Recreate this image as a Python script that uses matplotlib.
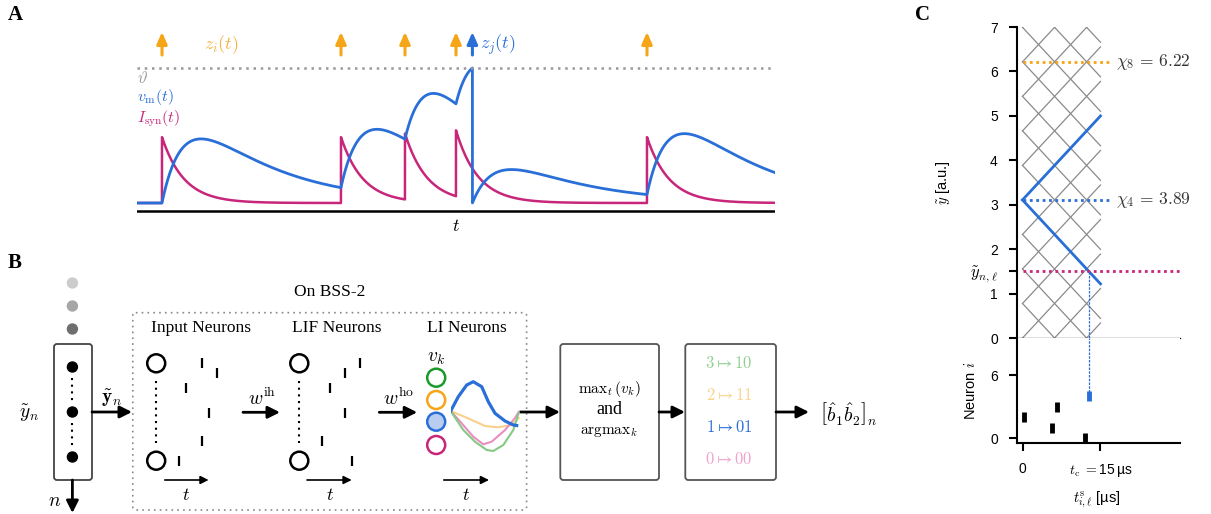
import numpy as np
import matplotlib.pyplot as plt
from matplotlib.patches import Circle, FancyBboxPatch

plt.rcParams['font.family'] = ['Liberation Serif', 'DejaVu Serif']
plt.rcParams['mathtext.fontset'] = 'cm'

W, H = 1211, 514
BLUE = '#2a6fd8'
MAG = '#c8267a'
ORANGE = '#f5a515'
SANS = ['Liberation Sans', 'DejaVu Sans']

# ---- panel A: input spike times and LIF parameters (time in a.u.)
a_t0, a_t1 = 137, 775
input_spikes = [162, 341, 405, 456, 647]
w_in = 66.0
tau_syn = 22.0
tau_mem = 80.0
gain = 5.76
v_thresh = 135.0

# ---- panel B: schematic rasters and LI traces
raster_rows = [9.3, 8.4, 7.1, 5.0, 2.5, 0.8]
input_raster_t = [6.95, 9.43, 4.37, 8.22, 6.95, 3.1]
lif_raster_t = [9.55, 7.08, 4.55, 7.08, 3.23, 8.23]

li_blue_t = [0, 7.6, 16, 22.6, 31, 37.6, 44.3, 54.3, 62.6, 66]
li_blue_v = [0, 14.3, 26, 29.3, 24.3, 9.3, -2.3, -10, -14, -14.5]
li_orange_t = [0, 17.3, 34.3, 47.3, 61, 68]
li_orange_v = [0, -7.3, -15, -16.3, -14, -7]
li_pink_t = [0, 11, 22.6, 32.6, 41, 54.3, 64.3, 68]
li_pink_v = [0, -12.3, -25.7, -33.3, -30.7, -19, -7, -1]
li_green_t = [0, 12.6, 24.3, 36, 42.6, 52.6, 62.6, 68]
li_green_v = [0, -19, -30.7, -39, -40, -34, -19, -2]

li_colors = ['#1a9a2a', '#f5a515', BLUE, MAG]
map_labels = [r'$3\mapsto\mathtt{10}$', r'$2\mapsto\mathtt{11}$',
              r'$\mathbf{1}\mapsto\mathtt{01}$', r'$0\mapsto\mathtt{00}$']
map_colors = ['#8fd08f', '#f8d38c', BLUE, '#f0a3cc']

# ---- panel C: encoding lattice and spikes
chi_step = 0.777
slope = 0.126
t_c = 15
y_nl = 1.5
chi_rows = [8, 4]
chi_labels = [r'$\chi_8\,=\,6.22$', r'$\chi_4\,=\,3.89$']
chi_colors = [ORANGE, BLUE]
c_in_t = [0.25, 5.7, 6.56, 12.0]
c_in_neuron = [2, 1, 3, 0]
c_out_neuron = 4


def px_axes(x0, y0, x1, y1):
    return fig.add_axes([x0 / W, 1 - y1 / H, (x1 - x0) / W, (y1 - y0) / H])


def arrow(ax, x0, y0, x1, y1, lw=2.0, ms=18, color='k'):
    ax.annotate('', xy=(x1, y1), xytext=(x0, y0), annotation_clip=False,
                arrowprops=dict(arrowstyle='-|>', lw=lw, color=color,
                                mutation_scale=ms, shrinkA=0, shrinkB=0))


fig = plt.figure(figsize=(W / 100, H / 100), dpi=100)
dg = fig.add_axes([0, 0, 1, 1])
dg.set_xlim(0, W)
dg.set_ylim(H, 0)
dg.axis('off')

# ================= panel A =================
dt = 0.05
t_a = np.arange(a_t0, a_t1 + dt, dt)
kick = np.zeros_like(t_a)
kick[np.searchsorted(t_a, input_spikes)] = w_in
i_syn = np.zeros_like(t_a)
v_mem = np.zeros_like(t_a)
I, V = 0.0, 0.0
out_spikes = []
for k in range(len(t_a)):
    I += kick[k]
    V += dt * (gain * I - V) / tau_mem
    I -= dt * I / tau_syn
    if V >= v_thresh:
        v_mem[k] = v_thresh
        out_spikes.append(t_a[k])
        V = 0.0
    else:
        v_mem[k] = V
    i_syn[k] = I

axA = px_axes(a_t0, 25, a_t1, 215)
axA.set_xlim(a_t0, a_t1)
axA.set_ylim(-12, 178)
axA.axis('off')
axA.plot(t_a, i_syn, color=MAG, lw=1.8)
axA.plot(t_a, v_mem, color=BLUE, lw=2.0)
axA.axhline(v_thresh, color='#999999', lw=1.8, dashes=(1, 1.9))
axA.axhline(-7.5, color='k', lw=1.8)
aprops = dict(arrowstyle='-|>,head_length=0.5,head_width=0.22', lw=2.2,
              mutation_scale=14, shrinkA=0, shrinkB=0)
for ts in input_spikes:
    axA.annotate('', xy=(ts, 171), xytext=(ts, 148),
                 arrowprops=dict(aprops, color=ORANGE))
for ts in out_spikes:
    axA.annotate('', xy=(ts, 171), xytext=(ts, 148),
                 arrowprops=dict(aprops, color=BLUE))
    axA.text(ts + 8, 158, r'$z_j(t)$', color=BLUE, fontsize=13,
             ha='left', va='center')
axA.text(221, 158, r'$z_i(t)$', color='#f5b13d', fontsize=13,
         ha='center', va='center')
axA.text(137, 124, r'$\vartheta$', color='#999999', fontsize=12,
         ha='left', va='center')
axA.text(137, 106, r'$v_\mathrm{m}(t)$', color=BLUE, fontsize=11.5,
         ha='left', va='center')
axA.text(137, 84, r'$I_\mathrm{syn}(t)$', color=MAG, fontsize=11.5,
         ha='left', va='center')
axA.text(456, -23, r'$t$', fontsize=13, ha='center', va='center')

# ================= panel B =================
for yy, c in zip([283, 306, 329], ['#cccccc', '#a6a6a6', '#6e6e6e']):
    dg.add_patch(Circle((72.4, yy), 5, color=c))
dg.add_patch(FancyBboxPatch((54, 344), 38, 136,
                            boxstyle='round,pad=0,rounding_size=3',
                            fc='white', ec='#444444', lw=1.3))
for yy in [367, 412, 457]:
    dg.add_patch(Circle((72.4, yy), 5, color='k'))
for ya, yb in [(378, 402), (423, 447)]:
    dg.plot([72.4, 72.4], [ya, yb], color='k', lw=1.5, dashes=(1, 2.2))
dg.text(29, 413, r'$\tilde{y}_n$', fontsize=14, ha='center', va='center')
arrow(dg, 92, 412, 132, 412)
dg.text(111, 398, r'$\tilde{\mathbf{y}}_n$', fontsize=14,
        ha='center', va='center')
arrow(dg, 72.4, 480, 72.4, 513)
dg.text(55, 501, r'$n$', fontsize=14, ha='center', va='center')

dg.add_patch(FancyBboxPatch((132.8, 312.7), 393.8, 197.3,
                            boxstyle='round,pad=0,rounding_size=3',
                            fc='none', ec='#888888', lw=1.2,
                            linestyle=(0, (1, 2.5))))
dg.text(330, 292, 'On BSS-2', fontsize=12.5, ha='center', va='center')
for cx, name in [(201.4, 'Input Neurons'), (337.2, 'LIF Neurons'),
                 (466.6, 'LI Neurons')]:
    dg.text(cx, 328, name, fontsize=12.5, ha='center', va='center')

for cx in [156.2, 299.3]:
    for cy in [363.3, 460.7]:
        dg.add_patch(Circle((cx, cy), 9, fc='white', ec='k', lw=1.8))
    dg.plot([cx, cx], [381, 443], color='k', lw=1.5, dashes=(1, 2.2))

for x0, times in [(160, input_raster_t), (303, lif_raster_t)]:
    ax_r = px_axes(x0, 355, x0 + 60, 470)
    ax_r.set_xlim(0, 10)
    ax_r.set_ylim(0, 10)
    ax_r.axis('off')
    ax_r.plot(times, raster_rows, ls='none', marker='|', ms=6.5, mew=1.6,
              color='k')

arrow(dg, 243, 412.3, 280, 412.3)
dg.text(262, 398, r'$w^\mathrm{ih}$', fontsize=14, ha='center', va='center')
arrow(dg, 379.3, 412.3, 417.2, 412.3)
dg.text(398.3, 398, r'$w^\mathrm{ho}$', fontsize=14, ha='center', va='center')

dg.text(436, 358, r'$v_k$', fontsize=14, ha='center', va='center')
for cy, c in zip([377.7, 400, 421.7, 445], li_colors):
    fc = '#b8cdf0' if c == BLUE else 'white'
    dg.add_patch(Circle((436.2, cy), 9, fc=fc, ec=c, lw=1.8))

ax_li = px_axes(450.7, 370, 525, 460)
ax_li.set_xlim(0, 74.3)
ax_li.set_ylim(-49, 41)
ax_li.axis('off')
ax_li.plot(li_orange_t, li_orange_v, color='#f8d08a', lw=1.5)
ax_li.plot(li_pink_t, li_pink_v, color='#e88fc0', lw=1.5)
ax_li.plot(li_green_t, li_green_v, color='#85c985', lw=1.5)
ax_li.plot(li_blue_t, li_blue_v, color=BLUE, lw=2.3)

for x0, x1, tx in [(164.8, 208.6, 186.2), (307, 351.7, 330),
                   (443.8, 489, 466.2)]:
    arrow(dg, x0, 480, x1, 480, lw=1.2, ms=12)
    dg.text(tx, 495, r'$t$', fontsize=13, ha='center', va='center')

arrow(dg, 520, 412, 560, 412)
dg.add_patch(FancyBboxPatch((560.3, 344), 98.7, 136,
                            boxstyle='round,pad=0,rounding_size=3',
                            fc='white', ec='#555555', lw=1.3))
dg.text(609, 389, r'$\mathrm{max}_t\,(v_k)$', fontsize=11,
        ha='center', va='center')
dg.text(609, 409, 'and', fontsize=13, ha='center', va='center')
dg.text(609, 432, r'$\mathrm{argmax}_k$', fontsize=11,
        ha='center', va='center')
arrow(dg, 659, 412, 685, 412)
dg.add_patch(FancyBboxPatch((685.3, 344), 90.7, 136,
                            boxstyle='round,pad=0,rounding_size=3',
                            fc='white', ec='#555555', lw=1.3))
for yy, lab, c in zip([364.3, 396, 428.3, 460], map_labels, map_colors):
    dg.text(729, yy, lab, fontsize=12, color=c, ha='center', va='center')
arrow(dg, 776, 412, 809, 412)
dg.text(820, 413, r'$\left[\hat{b}_1\hat{b}_2\right]_n$', fontsize=14,
        ha='left', va='center')

# ================= panel C =================
axC = px_axes(1017, 27, 1180, 338)
axB2 = px_axes(1017, 338, 1180, 443.3)
xl = (-1.06, 30.3)
for ax in (axC, axB2):
    ax.set_xlim(*xl)
    ax.spines['top'].set_visible(False)
    ax.spines['right'].set_visible(False)
    ax.spines['left'].set_linewidth(1.5)
    ax.tick_params(axis='y', length=5.8, width=1.5, pad=8, labelsize=10)
axC.set_ylim(0, 7)
axC.spines['bottom'].set_linewidth(0.9)
axC.set_xticks([])

xs = np.array([0, t_c])
for k in range(-3, 13):
    for sgn in (1, -1):
        axC.plot(xs, k * chi_step + sgn * slope * xs, color='#8a8a8a', lw=0.9)
y0 = 4 * chi_step
axC.plot(xs, y0 + slope * xs, color=BLUE, lw=2)
axC.plot(xs, y0 - slope * xs, color=BLUE, lw=2)
for r, lab, c in zip(chi_rows, chi_labels, chi_colors):
    axC.plot([0, 17], [r * chi_step] * 2, color=c, lw=2, dashes=(1, 1.3),
             clip_on=False)
    axC.text(18, r * chi_step, lab, fontsize=12.5, color='#333333',
             ha='left', va='center', clip_on=False)
axC.plot([0, xl[1]], [y_nl, y_nl], color=MAG, lw=2, dashes=(1, 1.3))
t_out = (y0 - y_nl) / slope
axC.plot([t_out, t_out], [0, y_nl], color=BLUE, lw=0.9, dashes=(2, 1))

yt = [0, 1, y_nl, 2, 3, 4, 5, 6, 7]
axC.set_yticks(yt)
axC.set_yticklabels(['0', '1', r'$\tilde{y}_{n,\ell}$', '2', '3', '4', '5',
                     '6', '7'])
for lab in axC.get_yticklabels():
    lab.set_family(SANS)
axC.get_yticklabels()[2].set_fontsize(12)
axC.set_ylabel(r'$\tilde{y}$ [a.u.]', fontsize=10.5, family=SANS)
axC.yaxis.set_label_coords(-0.40, 0.5)

axB2.set_ylim(-0.48, 9.55)
axB2.spines['bottom'].set_linewidth(1.5)
axB2.plot(c_in_t, c_in_neuron, ls='none', marker='|', ms=7, mew=3.5,
          color='k')
axB2.plot([t_out], [c_out_neuron], ls='none', marker='|', ms=7, mew=3.5,
          color=BLUE)
axB2.plot([t_out, t_out], [c_out_neuron + 0.4, 9.55], color=BLUE, lw=0.9,
          dashes=(2, 1))
axB2.set_yticks([0, 6])
axB2.set_xticks([0, t_c])
axB2.set_xticklabels(['0', r'$t_\mathrm{c}$ $=$15$\,$µs'])
axB2.tick_params(axis='x', length=5.8, width=1.5, pad=8, labelsize=10)
for lab in axB2.get_xticklabels() + axB2.get_yticklabels():
    lab.set_family(SANS)
axB2.set_ylabel(r'Neuron $i$', fontsize=10.5, family=SANS)
axB2.yaxis.set_label_coords(-0.24, 0.5)
axB2.set_xlabel(r'$t^\mathrm{s}_{i,\ell}$ [µs]', fontsize=10.5, family=SANS)
axB2.xaxis.set_label_coords(0.49, -0.44)

for x, y, s in [(15, 15, 'A'), (15, 263, 'B'), (923, 15, 'C')]:
    fig.text(x / W, 1 - y / H, s, fontsize=15, fontweight='bold',
             ha='center', va='center')

fig.savefig('out.png', dpi=100)
